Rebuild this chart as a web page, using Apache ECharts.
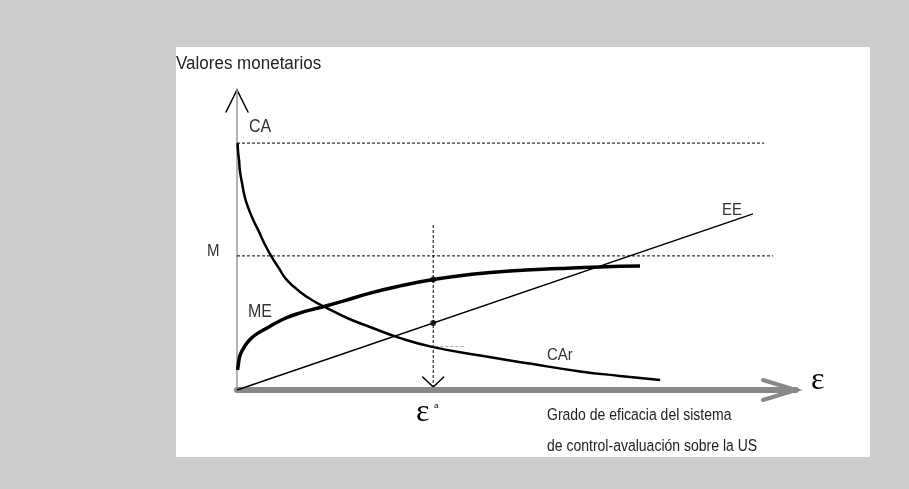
<!DOCTYPE html>
<html>
<head>
    <meta charset="utf-8">
    <script src="https://cdn.jsdelivr.net/npm/echarts@6/dist/echarts.min.js"></script>
    <style>
        body { margin: 0; background: #cccccc; }
        #panel { position: absolute; left: 176px; top: 47px; width: 694px; height: 410px; background: #fff; }
        #chart { position: absolute; left: 0; top: 0; width: 909px; height: 489px; }
    </style>
</head>
<body>
<div id="panel"></div>
<div id="chart"></div>
<script type="text/javascript">
    // curvas del gráfico (eje x: eficacia, eje y: valores monetarios)
    var caCurve = [[0.01, 8.23], [0.02, 7.93], [0.04, 7.6], [0.05, 7.33], [0.09, 6.9], [0.14, 6.43],
        [0.21, 6.03], [0.29, 5.67], [0.38, 5.33], [0.48, 4.92], [0.61, 4.47], [0.75, 4.06],
        [0.89, 3.67], [1.13, 3.27], [1.34, 3.0], [1.57, 2.77], [1.97, 2.4], [2.38, 2.1],
        [2.92, 1.73], [3.51, 1.43], [4.35, 1.15], [5.24, 0.88], [6.14, 0.62], [6.85, 0.47], [7.57, 0.33]];
    var meCurve = [[0.01, 0.67], [0.03, 0.93], [0.05, 1.13], [0.11, 1.37], [0.18, 1.57], [0.27, 1.75],
        [0.36, 1.88], [0.52, 2.05], [0.70, 2.24], [0.89, 2.41], [1.13, 2.57], [1.34, 2.68],
        [1.57, 2.79], [1.93, 2.98], [2.38, 3.23], [2.92, 3.47], [3.51, 3.68], [4.17, 3.85],
        [4.88, 3.97], [5.78, 4.05], [6.49, 4.1], [7.21, 4.13]];
    var eeLine = [[0, 0], [9.23, 5.87]];
    var caLevel = [[0, 8.23], [9.43, 8.23]];
    var mLevel = [[0, 4.47], [9.59, 4.47]];
    var epsA = [[3.51, 5.5], [3.51, 0.1]];
    var carTick = [[3.55, 1.45], [4.08, 1.45]];
    var dots = [[3.51, 3.68], [3.51, 2.23]];

    var myChart = echarts.init(document.getElementById('chart'));
    var sans = 'Liberation Sans, Arial, sans-serif';
    var serif = 'Liberation Serif, Times New Roman, serif';

    function lineSeries(data, width, type, color, smooth) {
        return {
            type: 'line', data: data, showSymbol: false, smooth: smooth || false,
            lineStyle: { color: color || '#000', width: width, type: type || 'solid' },
            silent: true, animation: false
        };
    }

    option = {
        animation: false,
        grid: { left: 237, top: 90, width: 559, height: 300 },
        xAxis: {
            type: 'value', min: 0, max: 10,
            axisLine: { show: true, lineStyle: { color: '#888', width: 6, cap: 'round' } },
            axisTick: { show: false }, axisLabel: { show: false }, splitLine: { show: false }
        },
        yAxis: {
            type: 'value', min: 0, max: 10,
            axisLine: { show: true, lineStyle: { color: '#999', width: 1.5 } },
            axisTick: { show: false }, axisLabel: { show: false }, splitLine: { show: false }
        },
        series: [
            lineSeries(caLevel, 1, [3, 2]),
            lineSeries(mLevel, 1, [3, 2]),
            lineSeries(epsA, 1, [3, 2]),
            lineSeries(carTick, 1, [3, 2], '#aaa'),
            lineSeries(eeLine, 1.5),
            lineSeries(caCurve, 2.5, 'solid', '#000', 0.5),
            lineSeries(meCurve, 3.5, 'solid', '#000', 0.5),
            {
                type: 'scatter', data: dots, symbolSize: 6, silent: true, z: 5,
                itemStyle: { color: '#000' }
            }
        ]
    };
    myChart.setOption(option);

    // flechas y textos
    var yTop = myChart.convertToPixel('grid', [0, 10]);
    var xEnd = myChart.convertToPixel('grid', [10, 0]);
    var ea = myChart.convertToPixel('grid', [epsA[0][0], 0]);
    ea[1] -= 3;

    function arrow(p, a, b, color, w) {
        return {
            type: 'polyline', silent: true,
            shape: { points: [[p[0] + a[0], p[1] + a[1]], p, [p[0] + b[0], p[1] + b[1]]] },
            style: { stroke: color, lineWidth: w, fill: null, lineCap: 'round' }
        };
    }
    function txt(s, x, y, size, font, color, sy) {
        return {
            type: 'text', silent: true, x: x, y: y, scaleY: sy || 1,
            style: { text: s, font: size + 'px ' + (font || sans), fill: color || '#222', textVerticalAlign: 'middle' }
        };
    }

    myChart.setOption({
        graphic: [
            arrow(yTop, [-11, 22], [11, 22], '#000', 1.5),
            arrow(xEnd, [-33, -10], [-33, 10], '#888', 4),
            arrow(ea, [-10.5, -10], [10.5, -10], '#000', 1.5),
            txt('Valores monetarios', 176, 64, 17, sans, '#222', 1.05),
            txt('CA', 249, 127, 16, sans, '#333', 1.1),
            txt('M', 207, 251, 15, sans, '#333', 1.1),
            txt('ME', 248, 312, 16, sans, '#333', 1.1),
            txt('EE', 722, 210, 15, sans, '#333', 1.1),
            txt('CAr', 547, 355, 15, sans, '#333', 1.1),
            txt('Grado de eficacia del sistema', 547, 416, 14, sans, '#222', 1.12),
            txt('de control-avaluación sobre la US', 547, 447, 14, sans, '#222', 1.12),
            txt('\u03b5', 811, 381, 32, serif, '#000'),
            txt('\u03b5', 416, 413, 32, serif, '#000'),
            txt('a', 434, 406, 8, sans, '#000')
        ]
    });
</script>
</body>
</html>
